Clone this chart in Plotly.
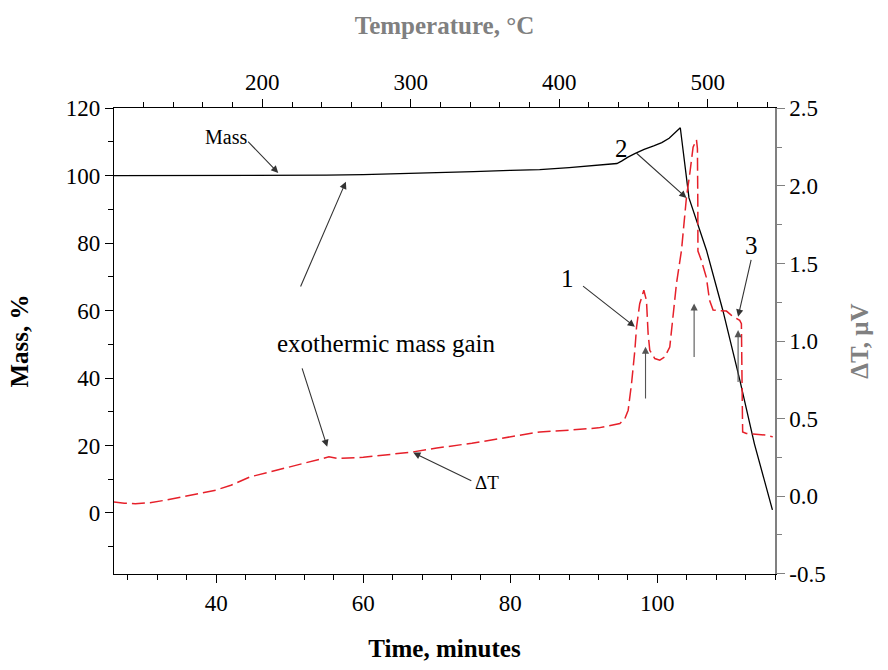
import plotly.graph_objects as go

# ---- data ----
mass_time = [26.1, 35, 45, 50, 55, 60, 65, 70, 75, 80, 84.0, 88, 92, 94.5, 95.13, 96.0, 97.0, 98.2, 99.5,
             100.6, 101.6, 102.4, 103.12, 104.3, 106.68, 108.9, 111.2, 113.2, 114.8, 115.65]
mass_pct = [100.0, 100.0, 100.0, 100.05, 100.15, 100.3, 100.55, 100.85, 101.2, 101.55, 101.8, 102.4,
            103.0, 103.6, 104.3, 105.5, 106.6, 107.8, 108.8, 109.8, 111.1, 112.6, 114.2, 93.4, 77.9, 60.1,
            39.5, 20.5, 7.5, 0.9]

dta_time = [26.1, 27.5, 29.0, 31.0, 33.0, 35.07, 38.0, 39.97, 42.0, 44.59, 47.0, 50.03, 53.0, 55.33,
            56.56, 60.0, 66.75, 70.0, 74.77, 80.0, 84.02, 88.0, 92.0, 94.9, 95.58, 96.03, 96.49, 96.94,
            97.17, 97.6, 98.16, 98.52, 98.74, 98.97, 99.65, 100.33, 101.0, 101.69, 102.14, 102.6,
            103.28, 103.96, 104.41, 104.86, 105.32, 105.45, 105.5, 105.52, 105.98, 106.66, 107.1,
            107.58, 108.5, 109.4, 110.08, 110.76, 111.2, 111.43, 111.5, 111.55, 111.6, 112.1, 113.0,
            114.0, 114.82, 115.7]
dta_uv = [-0.037, -0.046, -0.049, -0.042, -0.027, -0.006, 0.02, 0.039, 0.07, 0.124, 0.152, 0.187, 0.224,
          0.253, 0.243, 0.25, 0.285, 0.31, 0.341, 0.385, 0.414, 0.425, 0.44, 0.468, 0.5, 0.554, 0.726,
          0.94, 1.09, 1.24, 1.327, 1.26, 1.05, 0.94, 0.887, 0.876, 0.897, 0.961, 1.155, 1.37, 1.584,
          1.927, 2.078, 2.25, 2.297, 2.24, 1.9, 1.58, 1.52, 1.41, 1.262, 1.2, 1.195, 1.193, 1.165,
          1.144, 1.133, 1.112, 0.94, 0.6, 0.414, 0.404, 0.40, 0.395, 0.393, 0.382]

temp_range = [100.1, 545.3]
dT_tickvals = [-0.5, 0.0, 0.5, 1.0, 1.5, 2.0, 2.5]
dT_ticktext = ["-0.5", "0.0", "0.5", "1.0", "1.5", "2.0", "2.5"]

FONT = "Liberation Serif"
GRAY = "#808080"

fig = go.Figure()
fig.add_trace(go.Scatter(x=mass_time, y=mass_pct, mode="lines",
                         line=dict(color="black", width=1.3), xaxis="x", yaxis="y",
                         showlegend=False, hoverinfo="skip"))
fig.add_trace(go.Scatter(x=dta_time, y=dta_uv, mode="lines",
                         line=dict(color="#e6202a", width=1.5, dash="13px,5px"), xaxis="x", yaxis="y2",
                         showlegend=False, hoverinfo="skip"))
# empty trace so the temperature axis is drawn
fig.add_trace(go.Scatter(x=[None], y=[None], mode="lines", xaxis="x2", yaxis="y",
                         showlegend=False, hoverinfo="skip"))

tickfont = dict(family=FONT, size=23, color="black")

fig.update_layout(
    width=888, height=670,
    margin=dict(l=114, r=113, t=108, b=96),
    paper_bgcolor="white", plot_bgcolor="white",
    font=dict(family=FONT, color="black"),
    xaxis=dict(range=[26.1, 116.0], dtick=20, tick0=0, ticks="outside", ticklen=8, tickwidth=1,
               tickcolor="black", showline=True, linecolor="black", linewidth=1.3,
               showgrid=False, zeroline=False, tickfont=tickfont, automargin=False,
               minor=dict(dtick=4, tick0=0, ticks="outside", ticklen=5, tickcolor="black"),
               title=dict(text="Time, minutes", standoff=24,
                          font=dict(family=FONT, size=25, color="black", weight="bold"))),
    xaxis2=dict(range=temp_range, overlaying="x", side="top", anchor="y", dtick=100, tick0=0,
                ticks="outside", ticklen=8, tickwidth=1, tickcolor="black", showline=True,
                linecolor="black", linewidth=1.3, showgrid=False, zeroline=False, tickfont=tickfont,
                automargin=False,
                minor=dict(dtick=20, tick0=0, ticks="outside", ticklen=5, tickcolor="black"),
                title=dict(text="Temperature, °C", standoff=27,
                           font=dict(family=FONT, size=25, color=GRAY, weight="bold"))),
    yaxis=dict(range=[-18.1, 120.05], dtick=20, tick0=0, ticks="outside", ticklen=8, tickwidth=1,
               tickcolor="black", showline=True, linecolor="black", linewidth=1.3,
               showgrid=False, zeroline=False, tickfont=tickfont, automargin=False,
               minor=dict(dtick=10, tick0=0, ticks="outside", ticklen=5, tickcolor="black"),
               title=dict(text="Mass, %", standoff=30,
                          font=dict(family=FONT, size=25, color="black", weight="bold"))),
    yaxis2=dict(range=[-0.502, 2.502], overlaying="y", side="right", anchor="x",
                tickvals=dT_tickvals, ticktext=dT_ticktext, ticks="outside", ticklen=8, tickwidth=1,
                tickcolor=GRAY, showline=True, linecolor=GRAY, linewidth=1.5,
                showgrid=False, zeroline=False, tickfont=tickfont, automargin=False,
                minor=dict(dtick=0.25, tick0=0, ticks="outside", ticklen=5, tickcolor=GRAY),
                title=dict(text="ΔT, μV", standoff=26,
                           font=dict(family=FONT, size=25, color=GRAY, weight="bold"))),
)

# ---- annotations (data coordinates on time / mass axes) ----
labels = [
    ("Mass", 41.4, 111.5, 20),
    ("exothermic mass gain", 63.15, 50.3, 25),
    ("ΔT", 76.8, 9.0, 19),
    ("1", 87.8, 69.6, 25),
    ("2", 95.1, 108.1, 25),
    ("3", 112.8, 79.4, 25),
]
for txt, x, y, s in labels:
    fig.add_annotation(x=x, y=y, xref="x", yref="y", text=txt, showarrow=False,
                       font=dict(family=FONT, size=s, color="black"))

# arrows: (tip_x, tip_y, tail_x, tail_y, color)
arrows = [
    (48.44, 100.8, 44.14, 110.5, "#333333"),
    (57.64, 98.2, 51.39, 66.7, "#333333"),
    (55.1, 19.6, 51.62, 43.3, "#333333"),
    (66.8, 17.9, 74.9, 9.3, "#333333"),
    (96.94, 55.2, 89.69, 67.6, "#333333"),
    (103.96, 93.4, 96.94, 107.1, "#333333"),
    (110.98, 58.2, 112.8, 75.5, "#333333"),
    (98.39, 49.3, 98.39, 33.5, "#555555"),
    (105.0, 62.1, 105.0, 45.8, "#555555"),
    (110.98, 54.2, 110.98, 38.4, "#555555"),
]
for tx, ty, sx, sy, c in arrows:
    fig.add_annotation(x=tx, y=ty, ax=sx, ay=sy, xref="x", yref="y", axref="x", ayref="y",
                       text="", showarrow=True, arrowhead=2, arrowsize=1.3, arrowwidth=1.1,
                       arrowcolor=c, standoff=0, startstandoff=0)

fig.write_html("out.html")
